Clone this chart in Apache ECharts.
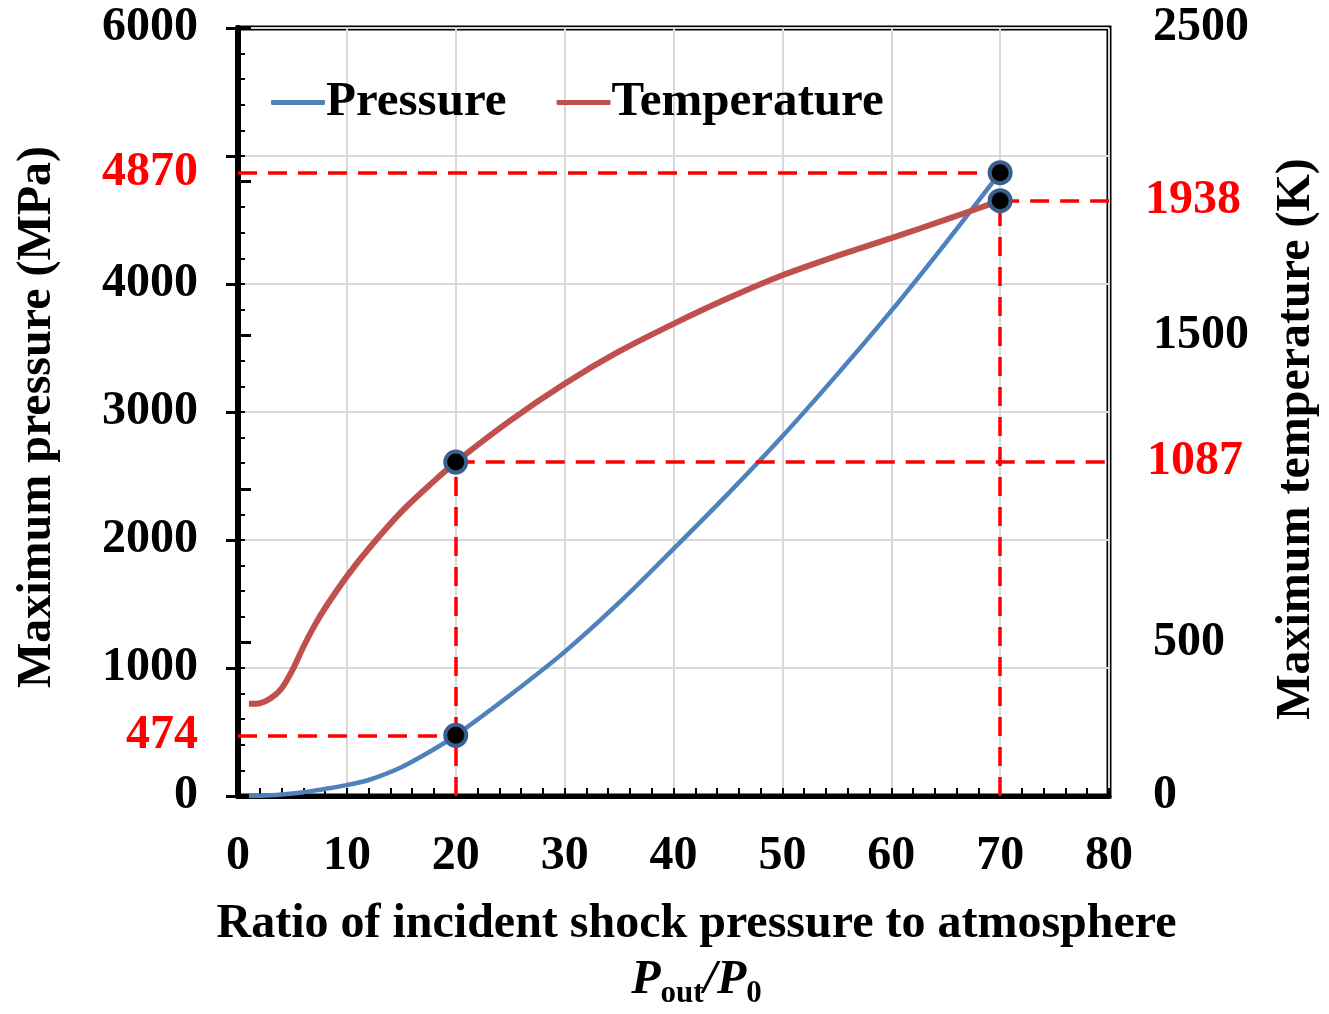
<!DOCTYPE html>
<html>
<head>
<meta charset="utf-8">
<script src="https://cdn.jsdelivr.net/npm/echarts@6/dist/echarts.min.js"></script>
<style>
html,body{margin:0;padding:0;background:#fff;overflow:hidden;}
#chart{width:1329px;height:1014px;}
</style>
</head>
<body>
<div id="chart"></div>
<script>
// ---- data ----
const ratio = [1, 2, 3, 4, 5, 6, 7, 8, 10, 12, 15, 18, 20, 25, 30, 35, 40, 45, 50, 55, 60, 65, 70];
const pressure = [0, 2, 6, 12, 20, 30, 42, 55, 85, 125, 225, 365, 474, 789, 1126, 1510, 1930, 2360, 2810, 3290, 3790, 4320, 4870];
const temperature = [300, 302, 318, 350, 410, 485, 553, 612, 715, 805, 925, 1025, 1087, 1222, 1342, 1447, 1537, 1620, 1695, 1758, 1816, 1876, 1938];
const markRatios = [20, 70];
const markPressure = [474, 4870];
const markTemperature = [1087, 1938];
const pressureTicks = [0, 1000, 2000, 3000, 4000, 6000];
const temperatureTicks = [0, 500, 1500, 2500];

const FONT = '"Liberation Serif", "Times New Roman", serif';
const RED = '#FF0000';
const FS = 48;

const pData = ratio.map((x, i) => [x, pressure[i]]);
const tData = ratio.map((x, i) => [x, temperature[i]]);
const pMarks = markRatios.map((x, i) => [x, markPressure[i]]);
const tMarks = markRatios.map((x, i) => [x, markTemperature[i]]);

const dashStyle = {color: RED, type: [19, 11], width: 3.5};
const bigLabel = {fontFamily: FONT, fontSize: FS, fontWeight: 'bold'};

const chart = echarts.init(document.getElementById('chart'));
chart.setOption({
  animation: false,
  backgroundColor: '#fff',
  grid: {left: 238, right: 216, top: 28, bottom: 212, show: true, borderColor: '#000', borderWidth: 5},
  legend: {
    data: ['Pressure', 'Temperature'],
    left: 266, top: 73,
    icon: 'roundRect', itemWidth: 54, itemHeight: 5, itemGap: 50,
    textStyle: {fontFamily: FONT, fontSize: 49, fontWeight: 'bold', color: '#000', padding: [0, 0, 0, -4]}
  },
  xAxis: [{
    type: 'value', min: 0, max: 80, interval: 10,
    axisLine: {show: true, lineStyle: {color: '#000', width: 5}},
    axisTick: {show: false},
    splitLine: {show: true, lineStyle: {color: '#D9D9D9', width: 2}},
    axisLabel: Object.assign({color: '#000', margin: 37}, bigLabel),
    name: 'Ratio of incident shock pressure to atmosphere\n{i|P}{s|out}{n|/}{i|P}{s|0}',
    nameLocation: 'middle', nameGap: 101,
    nameTextStyle: {
      fontFamily: FONT, fontSize: FS, fontWeight: 'bold', color: '#000', lineHeight: 56,
      padding: [0, 0, 0, 46],
      rich: {
        i: {fontFamily: FONT, fontSize: FS, fontWeight: 'bold', fontStyle: 'italic', color: '#000', lineHeight: 56},
        n: {fontFamily: FONT, fontSize: FS, fontWeight: 'bold', fontStyle: 'italic', color: '#000', lineHeight: 56},
        s: {fontFamily: FONT, fontSize: 31, fontWeight: 'bold', color: '#000', lineHeight: 32, verticalAlign: 'bottom'}
      }
    }
  }, {
    type: 'value', min: 0, max: 80, interval: 2, position: 'bottom',
    axisLine: {show: false},
    axisTick: {show: true, inside: true, length: 8, lineStyle: {color: '#000', width: 2}},
    axisLabel: {show: false}, splitLine: {show: false}
  }],
  yAxis: [{
    type: 'value', min: 0, max: 6000, interval: 1000, position: 'left',
    axisLine: {show: true, lineStyle: {color: '#000', width: 6}},
    axisTick: {show: true, inside: false, length: 12, lineStyle: {color: '#000', width: 3}},
    splitLine: {show: true, lineStyle: {color: '#D9D9D9', width: 2}},
    axisLabel: Object.assign({color: '#000', margin: 40,
      formatter: v => pressureTicks.indexOf(v) >= 0 ? String(v) : ''}, bigLabel),
    name: 'Maximum pressure (MPa)', nameLocation: 'middle', nameRotate: 90, nameGap: 176,
    nameTextStyle: {fontFamily: FONT, fontSize: FS, fontWeight: 'bold', color: '#000', padding: [0, 10, 0, 0]}
  }, {
    type: 'value', min: 0, max: 2500, interval: 500, position: 'right',
    axisLine: {show: true, lineStyle: {color: '#000', width: 5}},
    axisTick: {show: true, inside: false, length: 13, lineStyle: {color: '#000', width: 3}},
    splitLine: {show: false},
    axisLabel: Object.assign({color: '#000', margin: 44,
      formatter: v => temperatureTicks.indexOf(v) >= 0 ? String(v) : ''}, bigLabel),
    name: 'Maximum temperature (K)', nameLocation: 'middle', nameRotate: 90, nameGap: 164,
    nameTextStyle: {fontFamily: FONT, fontSize: FS, fontWeight: 'bold', color: '#000', padding: [0, 54, 0, 0]}
  }, {
    type: 'value', min: 0, max: 6000, interval: 200, position: 'left',
    axisLine: {show: false},
    axisTick: {show: true, inside: true, length: 7, lineStyle: {color: '#000', width: 2}},
    axisLabel: {show: false}, splitLine: {show: false}
  }],
  series: [{
    name: 'Pressure', type: 'line', xAxisIndex: 0, yAxisIndex: 0,
    data: pData, smooth: 0.3, symbol: 'none', z: 3,
    color: '#4F81BD',
    lineStyle: {color: '#4F81BD', width: 4.5},
    markLine: {
      silent: true, symbol: ['none', 'none'], animation: false,
      lineStyle: dashStyle,
      data: [
        [{coord: [0, markPressure[0]], lineStyle: dashStyle, label: Object.assign({show: true, position: 'start', distance: 40, color: RED, formatter: String(markPressure[0])}, bigLabel)},
         {coord: [markRatios[0], markPressure[0]]}],
        [{coord: [0, markPressure[1]], lineStyle: dashStyle, label: Object.assign({show: true, position: 'start', distance: 40, color: RED, formatter: String(markPressure[1])}, bigLabel)},
         {coord: [markRatios[1], markPressure[1]]}]
      ]
    }
  }, {
    name: 'Temperature', type: 'line', xAxisIndex: 0, yAxisIndex: 1,
    data: tData, smooth: 0.3, symbol: 'none', z: 3,
    color: '#C0504D',
    lineStyle: {color: '#C0504D', width: 6},
    markLine: {
      silent: true, symbol: ['none', 'none'], animation: false,
      lineStyle: dashStyle,
      data: [
        [{coord: [markRatios[0], 0], lineStyle: dashStyle, label: {show: false}}, {coord: [markRatios[0], markTemperature[0]]}],
        [{coord: [markRatios[1], 0], lineStyle: dashStyle, label: {show: false}}, {coord: [markRatios[1], markTemperature[1]]}],
        [{coord: [markRatios[0], markTemperature[0]], lineStyle: dashStyle, label: Object.assign({show: true, position: 'end', distance: 38, color: RED, formatter: String(markTemperature[0])}, bigLabel)},
         {coord: [80, markTemperature[0]]}],
        [{coord: [markRatios[1], markTemperature[1]], lineStyle: dashStyle, label: Object.assign({show: true, position: 'end', distance: 36, color: RED, formatter: String(markTemperature[1])}, bigLabel)},
         {coord: [80, markTemperature[1]]}]
      ]
    }
  }, {
    name: 'pMarks', type: 'scatter', xAxisIndex: 0, yAxisIndex: 0,
    data: pMarks, symbol: 'circle', symbolSize: 21, z: 5,
    itemStyle: {color: '#000', borderColor: '#3A5F8F', borderWidth: 4, opacity: 1}
  }, {
    name: 'tMarks', type: 'scatter', xAxisIndex: 0, yAxisIndex: 1,
    data: tMarks, symbol: 'circle', symbolSize: 21, z: 5,
    itemStyle: {color: '#000', borderColor: '#3A5F8F', borderWidth: 4, opacity: 1}
  }]
});
</script>
</body>
</html>
